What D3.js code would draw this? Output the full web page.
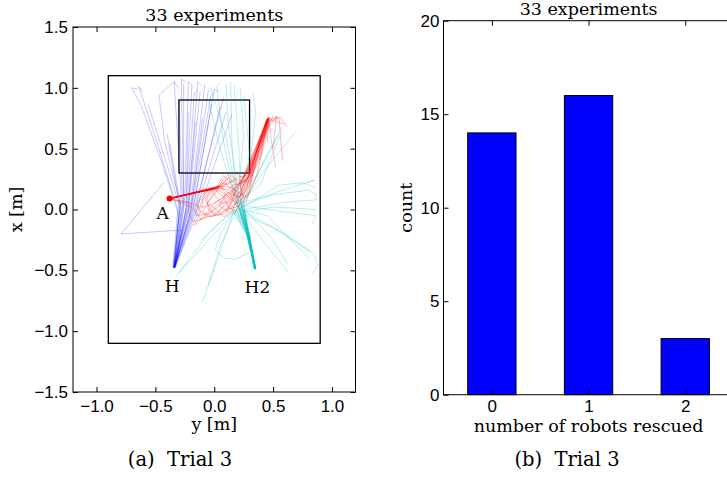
<!DOCTYPE html>
<html>
<head>
<meta charset="utf-8">
<script src="https://cdn.jsdelivr.net/npm/d3@7"></script>
<style>
  body { margin: 0; background: #fff; }
  svg { display: block; font-family: "DejaVu Serif", serif; }
  .domain { display: none; }
  .tick line { stroke: #000; }
  .tick text { font-size: 17px; fill: #000; }
</style>
</head>
<body>
<div id="app"></div>
<script>
// ---- left panel data: trajectories, [y, x] in metres ----
const trajBlue = [
  [[-0.34,-0.48],[-0.30,-0.05],[-0.45,0.40],[-0.62,0.85],[-0.70,1.00],[-0.65,0.99]],
  [[-0.35,-0.47],[-0.31,0.00],[-0.47,0.50],[-0.64,1.01],[-0.61,0.97]],
  [[-0.34,-0.48],[-0.30,0.05],[-0.56,0.86]],
  [[-0.34,-0.47],[-0.29,0.05],[-0.42,0.55],[-0.47,0.94],[-0.34,1.05]],
  [[-0.35,-0.48],[-0.28,0.10],[-0.34,1.05],[-0.30,0.99]],
  [[-0.34,-0.48],[-0.26,0.00],[-0.26,1.03]],
  [[-0.33,-0.47],[-0.25,0.10],[-0.22,1.05],[-0.18,1.01]],
  [[-0.34,-0.48],[-0.24,0.00],[-0.19,1.02]],
  [[-0.34,-0.47],[-0.22,0.05],[-0.14,1.05],[-0.10,1.01]],
  [[-0.35,-0.48],[-0.22,0.00],[-0.12,0.97]],
  [[-0.34,-0.48],[-0.20,0.05],[-0.08,1.03]],
  [[-0.33,-0.48],[-0.20,0.00],[-0.05,0.98]],
  [[-0.34,-0.47],[-0.18,0.00],[-0.02,0.87]],
  [[-0.34,-0.48],[-0.17,0.05],[0.00,0.99],[0.04,0.97]],
  [[-0.34,-0.48],[-0.16,0.00],[0.05,0.85]],
  [[-0.33,-0.47],[-0.15,0.00],[0.10,0.80]],
  [[-0.34,-0.48],[-0.13,0.00],[0.15,0.78]],
  [[-0.34,-0.48],[-0.28,-0.17],[-0.79,-0.20],[-0.43,0.22]],
  [[-0.35,-0.47],[-0.29,0.00],[-0.40,0.62]],
  [[-0.34,-0.48],[-0.27,0.05],[-0.30,0.90]],
  [[-0.34,-0.48],[-0.22,0.02],[-0.16,0.72]],
  [[-0.34,-0.48],[-0.20,-0.02],[-0.10,0.75]],
  [[-0.34,-0.47],[-0.26,0.08],[-0.28,1.07],[-0.24,1.05]],
  [[-0.34,-0.48],[-0.28,0.00],[-0.38,0.55]],
  [[-0.33,-0.48],[-0.24,0.02],[-0.22,0.80]],
  [[-0.34,-0.48],[-0.17,0.00],[0.08,0.92]],
  [[-0.34,-0.48],[-0.23,0.04],[-0.17,0.95],[-0.14,0.98]],
  [[-0.34,-0.47],[-0.19,0.02],[-0.03,0.93]]
];

const trajCyan = [
  [[0.35,-0.49],[0.30,-0.25],[0.24,-0.02],[0.50,0.02],[0.87,0.00]],
  [[0.35,-0.48],[0.29,-0.20],[0.21,0.02],[0.55,0.15],[0.85,0.24],[0.79,0.22]],
  [[0.34,-0.49],[0.30,-0.22],[0.25,0.00],[0.60,0.06],[0.87,0.08],[0.86,0.13]],
  [[0.35,-0.49],[0.28,-0.20],[0.20,0.05],[0.50,0.12],[0.80,0.16],[0.87,0.12]],
  [[0.35,-0.48],[0.30,-0.20],[0.22,-0.03],[0.50,-0.15],[0.82,-0.35]],
  [[0.35,-0.49],[0.30,-0.25],[0.26,-0.06],[0.45,-0.30],[0.63,-0.52]],
  [[0.34,-0.48],[0.29,-0.20],[0.22,0.00],[0.60,-0.20],[0.84,-0.36],[0.88,-0.46],[0.83,-0.53]],
  [[0.35,-0.49],[0.28,-0.20],[0.20,0.02],[0.17,0.30],[0.15,0.55],[0.14,1.05]],
  [[0.35,-0.48],[0.27,-0.15],[0.18,0.08],[0.08,0.55],[0.03,0.95],[0.02,1.01],[0.06,1.05]],
  [[0.34,-0.49],[0.29,-0.20],[0.23,0.05],[0.21,0.50],[0.17,1.02]],
  [[0.35,-0.49],[0.28,-0.20],[0.20,0.04],[0.10,0.60],[-0.02,0.96],[-0.03,1.01]],
  [[0.35,-0.48],[0.29,-0.22],[0.23,0.05],[0.45,0.35],[0.70,0.65]],
  [[0.35,-0.49],[0.30,-0.22],[0.24,0.06],[0.40,0.35],[0.55,0.62]],
  [[0.35,-0.49],[0.27,-0.20],[0.16,-0.02],[0.00,-0.15],[-0.12,-0.26]],
  [[0.34,-0.49],[0.28,-0.20],[0.18,0.00],[0.05,-0.20],[0.01,-0.33],[0.08,-0.40],[0.18,-0.41],[0.30,-0.35]],
  [[0.35,-0.48],[0.28,-0.20],[0.17,-0.02],[0.00,-0.20],[-0.33,-0.55]],
  [[0.35,-0.49],[0.27,-0.18],[0.18,0.02],[-0.05,-0.20],[-0.30,-0.52]],
  [[0.35,-0.49],[0.28,-0.22],[0.17,0.00],[0.05,-0.35],[-0.10,-0.76]],
  [[0.35,-0.48],[0.29,-0.20],[0.19,0.00],[0.05,-0.30],[-0.05,-0.62]],
  [[0.35,-0.49],[0.30,-0.20],[0.26,0.00],[0.50,-0.25],[0.62,-0.45]],
  [[0.34,-0.49],[0.28,-0.15],[0.22,0.10],[0.30,0.45],[0.25,0.94]],
  [[0.35,-0.49],[0.29,-0.20],[0.25,0.05],[0.45,0.45],[0.58,0.68]],
  [[0.35,-0.48],[0.28,-0.18],[0.22,0.08],[0.39,0.20],[0.56,0.61]],
  [[0.35,-0.49],[0.29,-0.20],[0.21,0.06],[0.12,0.70],[0.10,1.03]],
  [[0.35,-0.49],[0.30,-0.22],[0.24,0.03],[0.60,-0.02],[0.86,-0.05],[0.83,-0.12]],
  [[0.35,-0.48],[0.28,-0.20],[0.19,0.05],[0.05,0.50],[-0.05,0.90],[0.00,0.97]],
  [[0.34,-0.49],[0.27,-0.18],[0.20,0.10],[0.25,0.60],[0.22,1.00]],
  [[0.35,-0.49],[0.29,-0.20],[0.22,0.06],[0.30,0.30],[0.35,0.80],[0.33,0.95]],
  [[0.35,-0.48],[0.30,-0.25],[0.25,0.02],[0.55,0.20],[0.75,0.22],[0.86,0.18]],
  [[0.35,-0.49],[0.29,-0.21],[0.22,0.00],[0.45,-0.05],[0.70,-0.30],[0.80,-0.40]]
];

const trajRed = [
  [[-0.38,0.09],[0.05,0.19],[0.10,0.12],[0.04,0.03],[0.12,-0.02],[0.20,0.06],[0.25,0.10],[0.22,0.20],[0.30,0.30],[0.46,0.75],[0.40,0.50]],
  [[-0.38,0.09],[0.02,0.18],[-0.06,0.10],[-0.05,0.00],[0.03,-0.05],[0.10,-0.03],[0.16,0.08],[0.22,0.15],[0.30,0.32],[0.45,0.74]],
  [[-0.38,0.09],[-0.02,0.17],[-0.10,0.08],[-0.10,0.02],[-0.17,-0.13],[-0.08,-0.05],[0.00,0.05],[0.10,0.12],[0.20,0.20],[0.32,0.35],[0.46,0.75]],
  [[-0.38,0.09],[0.06,0.20],[0.10,0.24],[0.15,0.28],[0.20,0.22],[0.28,0.30],[0.38,0.52],[0.46,0.74],[0.45,0.55]],
  [[-0.38,0.09],[0.00,0.17],[0.08,0.10],[0.12,0.02],[0.18,-0.02],[0.22,0.05],[0.25,0.12],[0.30,0.25],[0.34,0.40],[0.46,0.76]],
  [[-0.38,0.09],[-0.05,0.16],[-0.10,0.10],[-0.15,0.05],[-0.12,-0.02],[-0.05,-0.06],[0.05,-0.04],[0.12,0.02],[0.20,0.12],[0.28,0.25],[0.44,0.72]],
  [[-0.38,0.09],[0.03,0.18],[0.10,0.22],[0.15,0.15],[0.20,0.10],[0.26,0.14],[0.30,0.20],[0.38,0.45],[0.47,0.73],[0.55,0.75],[0.58,0.40]],
  [[-0.38,0.09],[-0.19,0.02],[-0.14,-0.04],[-0.12,-0.08],[-0.02,-0.05],[0.05,0.00],[0.12,0.08],[0.22,0.22],[0.32,0.40],[0.45,0.75]],
  [[-0.38,0.09],[0.04,0.19],[-0.04,0.14],[-0.08,0.08],[-0.03,0.00],[0.00,-0.05],[0.08,0.02],[0.15,0.08],[0.27,0.30],[0.46,0.75],[0.38,0.40]],
  [[-0.38,0.09],[0.05,0.18],[0.12,0.22],[0.20,0.25],[0.26,0.22],[0.32,0.32],[0.42,0.60],[0.50,0.77]],
  [[-0.38,0.09],[0.01,0.17],[0.08,0.28],[0.14,0.22],[0.18,0.15],[0.14,0.06],[0.10,0.00],[0.18,0.02],[0.24,0.05],[0.30,0.20],[0.35,0.45],[0.46,0.74]],
  [[-0.38,0.09],[-0.01,0.17],[-0.08,0.14],[-0.12,0.10],[-0.14,0.02],[-0.16,-0.05],[-0.08,-0.04],[-0.02,-0.02],[0.08,0.06],[0.16,0.15],[0.30,0.28],[0.44,0.73]],
  [[-0.38,0.09],[0.05,0.19],[0.10,0.15],[0.14,0.12],[0.18,0.04],[0.22,0.00],[0.27,0.06],[0.30,0.15],[0.33,0.30],[0.38,0.50],[0.47,0.76]],
  [[-0.38,0.09],[0.02,0.18],[0.06,0.22],[0.10,0.20],[0.18,0.26],[0.26,0.28],[0.33,0.40],[0.40,0.58],[0.53,0.77],[0.50,0.50]],
  [[-0.38,0.09],[-0.03,0.17],[0.02,0.10],[0.06,0.05],[0.12,0.06],[0.16,0.12],[0.22,0.18],[0.28,0.35],[0.46,0.75]],
  [[-0.38,0.09],[0.04,0.18],[0.00,0.12],[-0.04,0.08],[-0.10,-0.02],[-0.02,-0.06],[0.05,-0.03],[0.12,0.00],[0.18,0.05],[0.24,0.15],[0.29,0.27],[0.45,0.74],[0.42,0.60]],
  [[-0.38,0.09],[0.05,0.19],[0.09,0.24],[0.12,0.26],[0.20,0.20],[0.25,0.24],[0.30,0.22],[0.36,0.40],[0.46,0.75]],
  [[-0.38,0.09],[0.00,0.17],[0.05,0.15],[0.10,0.12],[0.15,0.08],[0.20,0.05],[0.24,0.18],[0.28,0.25],[0.33,0.33],[0.47,0.74],[0.60,0.70]],
  [[-0.38,0.09],[-0.20,0.05],[-0.22,-0.02],[-0.18,-0.10],[-0.10,-0.08],[-0.05,-0.04],[0.03,0.04],[0.10,0.10],[0.18,0.18],[0.26,0.28],[0.45,0.75]],
  [[-0.38,0.09],[0.03,0.18],[0.08,0.25],[0.14,0.30],[0.18,0.30],[0.24,0.26],[0.29,0.32],[0.46,0.76],[0.48,0.60],[0.52,0.35]],
  [[-0.38,0.09],[0.04,0.18],[0.00,0.14],[-0.06,0.05],[0.02,0.00],[0.08,-0.06],[0.15,-0.02],[0.20,0.10],[0.28,0.20],[0.34,0.36],[0.45,0.74],[0.56,0.76],[0.62,0.68]],
  [[-0.38,0.09],[0.02,0.18],[0.12,0.16],[0.16,0.20],[0.24,0.22],[0.32,0.28],[0.40,0.45],[0.46,0.75]],
  [[-0.38,0.09],[-0.19,0.05],[-0.12,0.02],[-0.05,0.03],[0.05,0.08],[0.12,0.14],[0.22,0.10],[0.28,0.18],[0.30,0.30],[0.45,0.74]],
  [[-0.38,0.09],[0.05,0.19],[0.15,0.18],[0.20,0.14],[0.28,0.10],[0.32,0.18],[0.36,0.28],[0.44,0.60],[0.47,0.76]]
];

// arena and target box, [y0, y1, x0, x1]
const arena = [-0.9, 0.9, -1.1, 1.1];
const targetBox = [-0.3, 0.3, 0.3, 0.9];
const landmarks = [
  { name: 'A', y: -0.38, x: 0.09 },
  { name: 'H', y: -0.34, x: -0.48 },
  { name: 'H2', y: 0.35, x: -0.49 }
];
const yTicks = [-1.0, -0.5, 0.0, 0.5, 1.0];
const xTicks = [-1.5, -1.0, -0.5, 0.0, 0.5, 1.0, 1.5];

// ---- right panel data ----
const rescued = [0, 1, 2];
const counts = [14, 16, 3];
const countTicks = [0, 5, 10, 15, 20];

const width = 727;
const height = 482;
const fontSize = 17.5;
const captionSize = 19.5;

const svg = d3.select('#app')
  .append('svg')
  .attr('width', width)
  .attr('height', height);

/* ========== (a) trajectories ========== */
const L = { left: 73, right: 355.5, top: 27, bottom: 392 };

const hScale = d3.scaleLinear().domain([-1.2, 1.2]).range([L.left, L.right]);
const vScale = d3.scaleLinear().domain([-1.5, 1.5]).range([L.bottom, L.top]);

const line = d3.line()
  .x(d => hScale(d[0]))
  .y(d => vScale(d[1]));

const left = svg.append('g');

// arena + box
[arena, targetBox].forEach(b => {
  left.append('rect')
    .attr('x', hScale(b[0]))
    .attr('y', vScale(b[3]))
    .attr('width', hScale(b[1]) - hScale(b[0]))
    .attr('height', vScale(b[2]) - vScale(b[3]))
    .attr('fill', 'none')
    .attr('stroke', '#000')
    .attr('stroke-width', 1.3);
});

const drawTracks = (tracks, color, alpha) => {
  left.append('g')
    .selectAll('path')
    .data(tracks)
    .enter()
    .append('path')
    .attr('d', line)
    .attr('fill', 'none')
    .attr('stroke', color)
    .attr('stroke-opacity', alpha)
    .attr('stroke-linejoin', 'round')
    .attr('stroke-width', 1);
};

drawTracks(trajBlue, '#0000ff', 0.22);
drawTracks(trajCyan, '#00bfbf', 0.28);
drawTracks(trajRed, '#ff0000', 0.28);

// start point of the red robot
left.append('circle')
  .attr('cx', hScale(landmarks[0].y))
  .attr('cy', vScale(landmarks[0].x))
  .attr('r', 3)
  .attr('fill', '#ff0000');

const labelOffset = { A: [-7, 20], H: [-2, 24.5], H2: [2, 23.5] };
left.selectAll('text.mark')
  .data(landmarks)
  .enter()
  .append('text')
  .attr('class', 'mark')
  .attr('x', d => hScale(d.y) + labelOffset[d.name][0])
  .attr('y', d => vScale(d.x) + labelOffset[d.name][1])
  .attr('text-anchor', 'middle')
  .attr('font-size', 17)
  .text(d => d.name);

// frame
left.append('rect')
  .attr('x', L.left).attr('y', L.top)
  .attr('width', L.right - L.left).attr('height', L.bottom - L.top)
  .attr('fill', 'none').attr('stroke', '#000').attr('stroke-width', 1);

const fmt = d3.format('.1f');

left.append('g')
  .attr('transform', `translate(0, ${L.bottom})`)
  .call(d3.axisBottom(hScale).tickValues(yTicks).tickFormat(fmt).tickSizeInner(-5).tickSizeOuter(0).tickPadding(7.5));
left.append('g')
  .attr('transform', `translate(0, ${L.top})`)
  .call(d3.axisTop(hScale).tickValues(yTicks).tickFormat('').tickSizeInner(-5).tickSizeOuter(0));
left.append('g')
  .attr('transform', `translate(${L.left}, 0)`)
  .call(d3.axisLeft(vScale).tickValues(xTicks).tickFormat(fmt).tickSizeInner(-5).tickSizeOuter(0).tickPadding(5));
left.append('g')
  .attr('transform', `translate(${L.right}, 0)`)
  .call(d3.axisRight(vScale).tickValues(xTicks).tickFormat('').tickSizeInner(-5).tickSizeOuter(0));

left.append('text')
  .attr('x', (L.left + L.right) / 2).attr('y', L.top - 6.5)
  .attr('text-anchor', 'middle').attr('font-size', fontSize)
  .text('33 experiments');
left.append('text')
  .attr('transform', `translate(22, ${(L.top + L.bottom) / 2}) rotate(-90)`)
  .attr('text-anchor', 'middle').attr('font-size', fontSize)
  .text('x [m]');
left.append('text')
  .attr('x', (L.left + L.right) / 2).attr('y', 430)
  .attr('text-anchor', 'middle').attr('font-size', fontSize)
  .text('y [m]');
left.append('text')
  .attr('x', 180).attr('y', 466)
  .attr('text-anchor', 'middle').attr('font-size', captionSize)
  .attr('xml:space', 'preserve')
  .text('(a)  Trial 3');

/* ========== (b) histogram ========== */
const R = { left: 443.5, right: 733.6, top: 20.7, bottom: 394.7 };

const xScale = d3.scaleLinear().domain([-0.5, 2.5]).range([R.left, R.right]);
const yScale = d3.scaleLinear().domain([0, 20]).range([R.bottom, R.top]);

const right = svg.append('g');

right.append('g')
  .selectAll('rect')
  .data(rescued)
  .enter()
  .append('rect')
  .attr('x', (d) => xScale(d - 0.25))
  .attr('y', (d, i) => yScale(counts[i]))
  .attr('width', xScale(0.25) - xScale(-0.25))
  .attr('height', (d, i) => yScale(0) - yScale(counts[i]))
  .attr('fill', '#0000ff')
  .attr('stroke', '#000')
  .attr('stroke-width', 1);

right.append('rect')
  .attr('x', R.left).attr('y', R.top)
  .attr('width', R.right - R.left).attr('height', R.bottom - R.top)
  .attr('fill', 'none').attr('stroke', '#000').attr('stroke-width', 1);

right.append('g')
  .attr('transform', `translate(0, ${R.bottom})`)
  .call(d3.axisBottom(xScale).tickValues(rescued).tickFormat(d3.format('d')).tickSizeInner(-5).tickSizeOuter(0).tickPadding(5.5));
right.append('g')
  .attr('transform', `translate(0, ${R.top})`)
  .call(d3.axisTop(xScale).tickValues(rescued).tickFormat('').tickSizeInner(-5).tickSizeOuter(0));
right.append('g')
  .attr('transform', `translate(${R.left}, 0)`)
  .call(d3.axisLeft(yScale).tickValues(countTicks).tickFormat(d3.format('d')).tickSizeInner(-5).tickSizeOuter(0).tickPadding(4));

right.append('text')
  .attr('x', (R.left + R.right) / 2).attr('y', 14.5)
  .attr('text-anchor', 'middle').attr('font-size', fontSize)
  .text('33 experiments');
right.append('text')
  .attr('transform', `translate(412, ${(R.top + R.bottom) / 2}) rotate(-90)`)
  .attr('text-anchor', 'middle').attr('font-size', fontSize)
  .text('count');
right.append('text')
  .attr('x', (R.left + R.right) / 2).attr('y', 432)
  .attr('text-anchor', 'middle').attr('font-size', fontSize)
  .text('number of robots rescued');
right.append('text')
  .attr('x', 567).attr('y', 466)
  .attr('text-anchor', 'middle').attr('font-size', captionSize)
  .attr('xml:space', 'preserve')
  .text('(b)  Trial 3');
</script>
</body>
</html>
